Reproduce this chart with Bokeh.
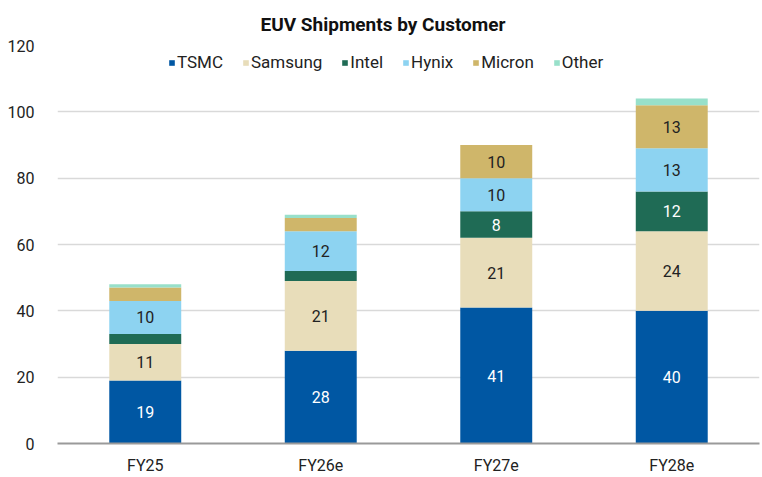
from bokeh.plotting import figure
from bokeh.models import ColumnDataSource, FactorRange, Range1d, Legend, SingleIntervalTicker
from bokeh.core.properties import value
from bokeh.embed import file_html
from bokeh.resources import INLINE

years = ["FY25", "FY26e", "FY27e", "FY28e"]
customers = ["TSMC", "Samsung", "Intel", "Hynix", "Micron", "Other"]
tsmc = [19, 28, 41, 40]
samsung = [11, 21, 21, 24]
intel = [3, 3, 8, 12]
hynix = [10, 12, 10, 13]
micron = [4, 4, 10, 13]
other = [1, 1, 0, 2]
colors = ["#0057A3", "#E8DDBA", "#1F6B55", "#8DD3F1", "#CFB66A", "#98E0CA"]
label_colors = ["white", "#222222", "white", "#222222", "#222222", "#222222"]

series = [tsmc, samsung, intel, hynix, micron, other]
data = {"year": years}
for name, vals in zip(customers, series):
    data[name] = vals
src = ColumnDataSource(data)

FONT = "Roboto"
p = figure(x_range=FactorRange(*years, range_padding=0), y_range=Range1d(0, 120),
           width=762, height=477, output_backend="svg", toolbar_location=None,
           min_border_left=57, min_border_right=3, min_border_top=44, min_border_bottom=34)
p.outline_line_color = None

renderers = p.vbar_stack(customers, x="year", width=0.41, source=src, color=colors,
                         line_color=None)

# segment labels
lx, ly, lt, lc = [], [], [], []
base = [0] * len(years)
for vals, col in zip(series, label_colors):
    for i, v in enumerate(vals):
        if v >= 8:
            lx.append(years[i]); ly.append(base[i] + v / 2); lt.append(str(v)); lc.append(col)
        base[i] += v
p.text(x=lx, y=ly, text=lt, text_color=lc, text_align="center", text_baseline="middle",
       text_font=value(FONT), text_font_size="16px")

legend = Legend(items=[(c, [r]) for c, r in zip(customers, renderers)],
                orientation="horizontal", location=(111, 371),
                border_line_color=None, background_fill_alpha=0,
                glyph_width=7, glyph_height=7, label_standoff=2, spacing=19,
                label_text_font=FONT, label_text_font_size="17px", label_text_color="#222222",
                padding=0, margin=0)
p.add_layout(legend, "center")

p.title.text = "EUV Shipments by Customer"
p.title.align = "left"
p.title.text_font = FONT
p.title.text_font_size = "19px"
p.title.text_font_style = "bold"
p.title.text_color = "#111111"
p.title.offset = 203
p.title.standoff = 20

p.yaxis.ticker = SingleIntervalTicker(interval=20)
p.yaxis.axis_line_color = None
p.yaxis.major_tick_line_color = None
p.yaxis.minor_tick_line_color = None
p.yaxis.major_label_text_font = FONT
p.yaxis.major_label_text_font_size = "16px"
p.yaxis.major_label_text_color = "#222222"
p.yaxis.major_label_standoff = 17

p.xaxis.axis_line_color = "#9A9A9A"
p.xaxis.axis_line_width = 2
p.xaxis.major_tick_line_color = None
p.xaxis.minor_tick_line_color = None
p.xaxis.major_label_text_font = FONT
p.xaxis.major_label_text_font_size = "16px"
p.xaxis.major_label_text_color = "#222222"
p.xaxis.major_label_standoff = 6

p.xgrid.grid_line_color = None
p.ygrid.grid_line_color = "#D9D9D9"
p.ygrid.grid_line_width = 1.5

open("out.html", "w").write(file_html(p, INLINE))
